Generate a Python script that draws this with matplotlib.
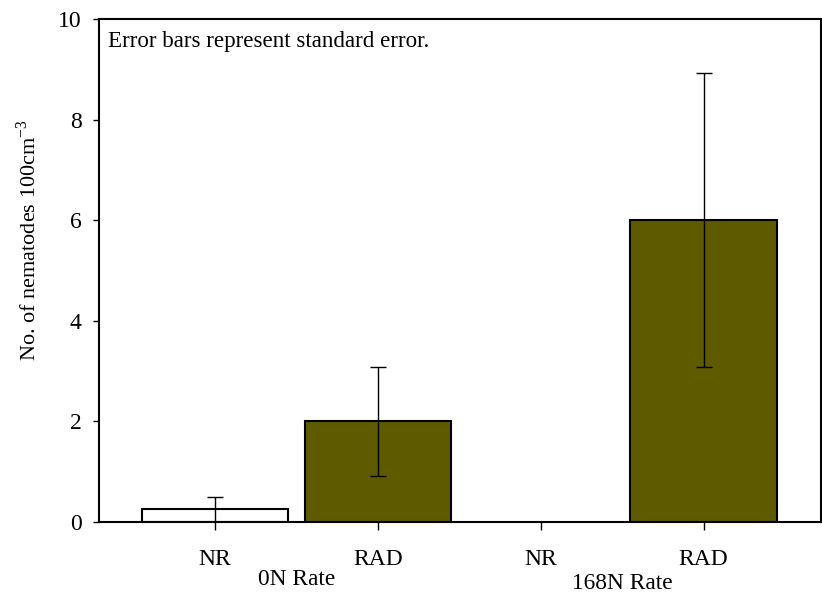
import numpy as np
import matplotlib
matplotlib.use('Agg')
from matplotlib import pyplot as plt

# nematode counts per treatment, with standard error
treatments = ['NR', 'RAD', 'NR', 'RAD']
n_rates = ['0N Rate', '168N Rate']
counts = [0.25, 2.0, 0.0, 6.0]
std_err = [0.25, 1.08, 0.0, 2.92]
bar_colors = ['white', '#5e5a00', 'white', '#5e5a00']


def main():
    plt.rcParams['font.family'] = ['Liberation Serif', 'DejaVu Serif']
    fig = plt.figure(figsize=(8.22, 5.96), dpi=100)
    ax = fig.add_axes([0.1204, 0.1242, 0.878, 0.844])

    x = np.arange(len(counts))
    shown = [c > 0 for c in counts]
    ax.bar(x[shown], np.array(counts)[shown], width=0.9,
           color=np.array(bar_colors)[shown], edgecolor='black', linewidth=1.5)
    ax.errorbar(x[shown], np.array(counts)[shown], yerr=np.array(std_err)[shown],
                fmt='none', ecolor='black', elinewidth=1, capsize=5.5, capthick=1)

    ax.set_xlim(-0.712, 3.718)
    ax.set_ylim(0, 10)
    ax.set_yticks(np.arange(0, 11, 2))
    ax.set_xticks(x)
    ax.set_xticklabels(treatments)
    ax.tick_params(axis='both', direction='out', labelsize=17, width=1)
    ax.tick_params(axis='x', length=5.5, pad=14)
    ax.tick_params(axis='y', length=4.5, pad=8)
    for spine in ax.spines.values():
        spine.set_linewidth(1.5)

    # group labels under each pair of bars
    label_y = [-1.15, -1.22]
    for i, rate in enumerate(n_rates):
        ax.text(2 * i + 0.5, label_y[i], rate, ha='center', va='center',
                fontsize=16.8, clip_on=False)

    ax.text(0.0125, 0.955, 'Error bars represent standard error.',
            transform=ax.transAxes, ha='left', va='center', fontsize=16.6)
    ax.set_ylabel('No. of nematodes 100cm$^{\\mathregular{-3}}$', fontsize=16)
    ax.yaxis.set_label_coords(-0.080, 0.561)

    fig.savefig('out.png', dpi=100)


if __name__ == '__main__':
    main()
